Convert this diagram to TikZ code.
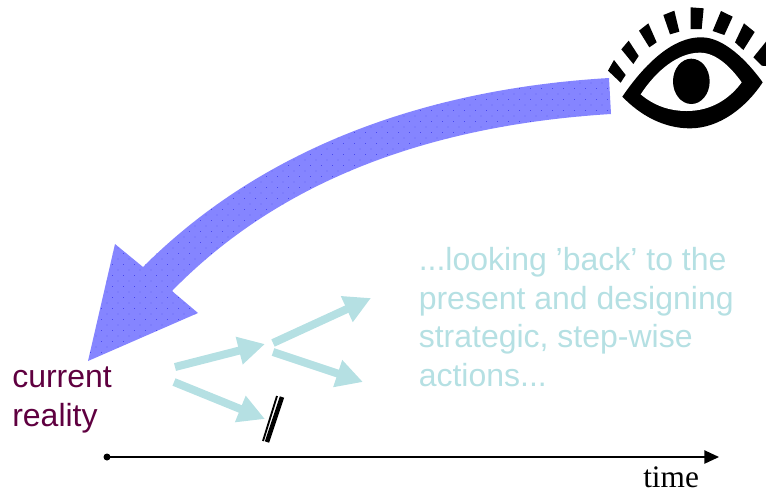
\documentclass[tikz,border=0pt]{standalone}
\usepackage{fontspec}
\setmainfont{Liberation Sans}
\newfontfamily\timesfont{Liberation Serif}
\usetikzlibrary{arrows.meta}
\definecolor{teal1}{HTML}{B5E0E3}
\definecolor{purp}{HTML}{8585FF}
\definecolor{purpdot}{HTML}{2828E4}
\definecolor{maroon1}{HTML}{5F0040}
\tikzset{
  smallarrow/.style={draw=teal1,line width=6pt,-{Triangle[length=20pt,width=20pt]}},
  tealtext/.style={anchor=base west,text=teal1,inner sep=0pt,font=\fontsize{24}{24}\selectfont},
  marootext/.style={anchor=base west,text=maroon1,inner sep=0pt,font=\fontsize{24}{24}\selectfont},
  lash/.style={fill=black,draw=none}
}
\begin{document}
\begin{tikzpicture}[x=0.75pt,y=-0.75pt]
\useasboundingbox (0,0) rectangle (766,494);
% big curved arrow
\def\bigarrow{(609,78) .. controls (440,88) and (270,140) .. (143,267) -- (115,244) -- (88,361) -- (198,313) -- (172,291) .. controls (290,170) and (450,124) .. (611,114) -- cycle}
\fill[purp] \bigarrow;
\begin{scope}
\clip \bigarrow;
\foreach \i in {0,...,48}{
  \foreach \j in {0,...,56}{
    \pgfmathsetmacro{\xx}{85+\i*11+mod(\j,2)*5.5}
    \pgfmathsetmacro{\yy}{72+\j*5.5}
    \fill[purpdot] (\xx,\yy) circle[radius=0.45];
  }
}
\end{scope}
% eye
\begin{scope}[shift={(590,0)},scale=1/3]
\fill[black] (97,290) .. controls (165,190) and (250,110) .. (335,112) .. controls (400,112) and (470,180) .. (518,247) .. controls (470,320) and (390,385) .. (300,385) .. controls (220,385) and (150,345) .. (97,290) -- cycle;
\fill[white] (152,283) .. controls (200,210) and (265,158) .. (330,158) .. controls (380,158) and (425,205) .. (455,247) .. controls (420,295) and (365,333) .. (290,333) .. controls (235,333) and (190,315) .. (152,283) -- cycle;
\fill[black] (304,244) ellipse[x radius=55,y radius=68];
\fill[lash] (72,180) -- (107,225) -- (92,248) -- (54,212) -- cycle;
\fill[lash] (116,122) -- (146,168) -- (130,192) -- (94,148) -- cycle;
\fill[lash] (175,70) -- (200,127) -- (178,142) -- (147,92) -- cycle;
\fill[lash] (253,32) -- (268,95) -- (240,103) -- (220,45) -- cycle;
\fill[lash] (302,22) -- (341,25) -- (335,87) -- (302,87) -- cycle;
\fill[lash] (393,33) -- (428,50) -- (403,105) -- (368,93) -- cycle;
\fill[lash] (462,70) -- (494,96) -- (460,150) -- (435,127) -- cycle;
\fill[lash] (528,125) -- (528,198) -- (515,197) -- (490,172) -- cycle;
\end{scope}
% text
\node[marootext] (cur) at (12,387) {current};
\node[marootext] (rea) at (12,426) {reality};
\node[tealtext] (t1) at (418.5,270) {...looking ’back’ to the};
\node[tealtext] (t2) at (418.5,309) {present and designing};
\node[tealtext] (t3) at (418.5,347) {strategic, step-wise};
\node[tealtext] (t4) at (418.5,386) {actions...};
% small arrows
\coordinate (a1s) at (175,367);
\coordinate (a1e) at (265,344);
\coordinate (a2s) at (273,343);
\coordinate (a2e) at (371,298);
\coordinate (a3s) at (273,352);
\coordinate (a3e) at (363,382);
\coordinate (a4s) at (174,382);
\coordinate (a4e) at (265,419);
\draw[smallarrow] (a1s) -- (a1e);
\draw[smallarrow] (a2s) -- (a2e);
\draw[smallarrow] (a3s) -- (a3e);
\draw[smallarrow] (a4s) -- (a4e);
% slash
\coordinate (s1a) at (282,397);
\coordinate (s1b) at (267,442);
\coordinate (s2a) at (277,396);
\coordinate (s2b) at (263,441);
\draw[black,line width=3.4pt] (s1a) -- (s1b);
\draw[black,line width=1.4pt] (s2a) -- (s2b);
% axis
\coordinate (axs) at (107,457);
\coordinate (axe) at (719,457);
\fill[black] (axs) circle[radius=3.5];
\draw[black,line width=1pt,-{Triangle[length=11pt,width=10pt]}] (axs) -- (axe);
\node[anchor=base west,inner sep=0pt,font=\timesfont\fontsize{23.5}{24}\selectfont] (tm) at (643,487) {time};
\end{tikzpicture}
\end{document}
